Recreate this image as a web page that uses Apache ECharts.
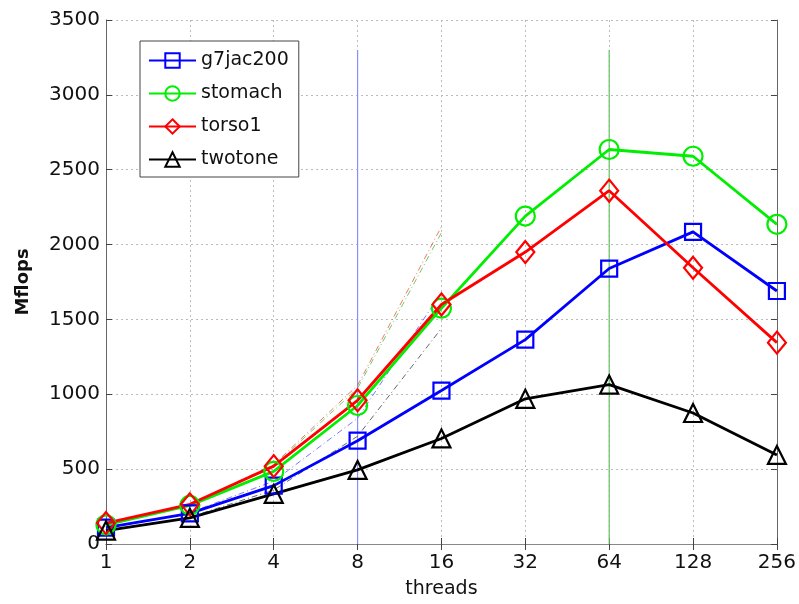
<!DOCTYPE html>
<html>
<head>
<meta charset="utf-8">
<script src="https://cdn.jsdelivr.net/npm/echarts@6/dist/echarts.min.js"></script>
<style>
  html, body { margin: 0; padding: 0; background: #fff; }
  #chart { width: 799px; height: 604px; }
</style>
</head>
<body>
<div id="chart"></div>
<script>
var threads = ['1', '2', '4', '8', '16', '32', '64', '128', '256'];

var g7jac200 = [110, 205, 390, 690, 1025, 1365, 1840, 2085, 1690];
var stomach  = [128, 258, 485, 925, 1575, 2190, 2635, 2590, 2135];
var torso1   = [140, 265, 520, 960, 1600, 1950, 2360, 1845, 1345];
var twotone  = [90, 175, 335, 495, 705, 970, 1065, 875, 595];

// ideal (linear speedup) guides from 2 threads
var idealBlue  = [null, 210, 420, 840, 1680, null, null, null, null];
var idealGreen = [null, 260, 520, 1040, 2080, null, null, null, null];
var idealRed   = [null, 265, 530, 1060, 2120, null, null, null, null];
var idealBlack = [null, 180, 360, 720, 1440, null, null, null, null];

var markTop = 3300;

var font = 'DejaVu Sans, Verdana, sans-serif';

function mainSeries(name, data, color, symbol, size) {
    return {
        name: name,
        type: 'line',
        data: data,
        color: color,
        symbol: symbol,
        symbolSize: size,
        z: 5,
        lineStyle: { color: color, width: 2.8 },
        itemStyle: { color: 'rgba(0,0,0,0)', borderColor: color, borderWidth: 2.2 }
    };
}

function idealSeries(data, color) {
    return {
        type: 'line',
        data: data,
        showSymbol: false,
        symbol: 'none',
        silent: true,
        z: 3,
        lineStyle: { color: color, width: 1, type: [6, 3, 1, 3], opacity: 0.75 }
    };
}

function vLine(cat, color) {
    return {
        type: 'line',
        data: [[cat, 0], [cat, markTop]],
        symbol: 'none',
        silent: true,
        z: 2,
        lineStyle: { color: color, width: 1.2 }
    };
}

var chart = echarts.init(document.getElementById('chart'));
chart.setOption({
    backgroundColor: '#fff',
    animation: false,
    grid: { left: 106, right: 21, top: 20, bottom: 58 },
    legend: {
        data: ['g7jac200', 'stomach', 'torso1', 'twotone'],
        orient: 'vertical',
        left: 140,
        top: 41,
        itemWidth: 47,
        itemHeight: 18,
        itemGap: 14,
        padding: [10, 10, 8, 8],
        backgroundColor: '#fff',
        borderColor: '#444',
        borderWidth: 1,
        textStyle: { fontFamily: font, fontSize: 19, color: '#111' }
    },
    xAxis: [{
        type: 'category',
        data: threads,
        boundaryGap: false,
        name: 'threads',
        nameLocation: 'middle',
        nameGap: 36,
        nameTextStyle: { fontFamily: font, fontSize: 19, color: '#111' },
        axisLine: { lineStyle: { color: '#666', width: 1 } },
        axisTick: { inside: true, length: 6, lineStyle: { color: '#444' } },
        axisLabel: { fontFamily: font, fontSize: 20, color: '#111', margin: 9 },
        splitLine: { show: true, lineStyle: { color: '#bbb', type: [2, 3] } }
    }, {
        type: 'category',
        data: threads,
        boundaryGap: false,
        position: 'top',
        axisLine: { lineStyle: { color: '#888' } },
        axisTick: { inside: true, length: 6, lineStyle: { color: '#444' } },
        axisLabel: { show: false }
    }],
    yAxis: [{
        type: 'value',
        min: 0,
        max: 3500,
        interval: 500,
        name: 'Mflops',
        nameLocation: 'middle',
        nameGap: 74,
        nameTextStyle: { fontFamily: font, fontSize: 18, fontWeight: 'bold', color: '#111' },
        axisLine: { show: true, lineStyle: { color: '#666', width: 1 } },
        axisTick: { show: true, inside: true, length: 6, lineStyle: { color: '#444' } },
        axisLabel: {
            fontFamily: font, fontSize: 20, color: '#111', margin: 6,
            formatter: function (v) { return String(v); }
        },
        splitLine: { show: true, lineStyle: { color: '#bbb', type: [2, 3] } }
    }, {
        type: 'value',
        min: 0,
        max: 3500,
        interval: 500,
        position: 'right',
        axisLine: { show: true, lineStyle: { color: '#666' } },
        axisTick: { show: true, inside: true, length: 6, lineStyle: { color: '#444' } },
        axisLabel: { show: false },
        splitLine: { show: false }
    }],
    series: [
        vLine('8', '#8c8cff'),
        vLine('64', '#66c066'),
        idealSeries(idealBlue, '#4a4aff'),
        idealSeries(idealGreen, '#3cb83c'),
        idealSeries(idealRed, '#e05030'),
        idealSeries(idealBlack, '#333'),
        mainSeries('g7jac200', g7jac200, '#0000ff', 'rect', 16),
        mainSeries('stomach', stomach, '#00ee00', 'circle', 19),
        mainSeries('torso1', torso1, '#ff0000', 'diamond', [18, 22]),
        mainSeries('twotone', twotone, '#000000', 'triangle', 18)
    ]
});
</script>
</body>
</html>
